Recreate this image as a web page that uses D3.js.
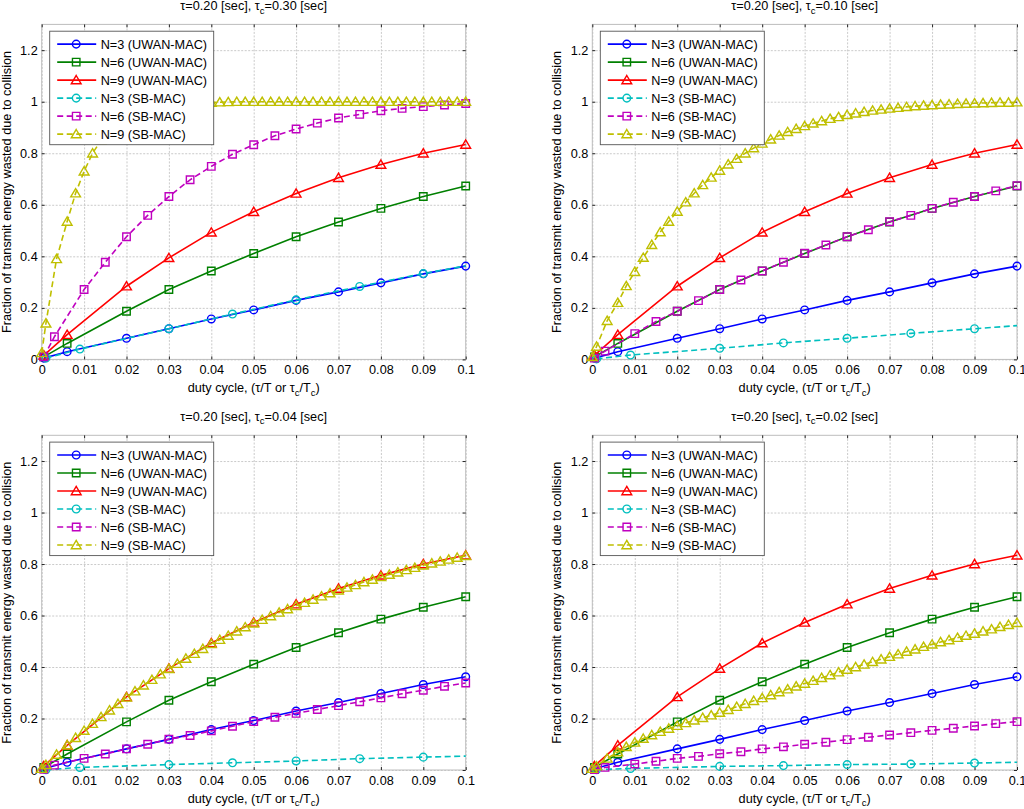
<!DOCTYPE html>
<html>
<head>
<meta charset="utf-8">
<script src="https://cdn.jsdelivr.net/npm/d3@7"></script>
<style>
  html, body { margin: 0; padding: 0; background: #fff; }
  svg { display: block; font-family: 'Liberation Sans', Arial, sans-serif; }
</style>
</head>
<body>
<script>
'use strict';

// ---- data ----
const xTicks = [0, 0.01, 0.02, 0.03, 0.04, 0.05, 0.06, 0.07, 0.08, 0.09, 0.1];
const xTickLabels = ['0', '0.01', '0.02', '0.03', '0.04', '0.05', '0.06', '0.07', '0.08', '0.09', '0.1'];
const yTicks = [0, 0.2, 0.4, 0.6, 0.8, 1, 1.2];
const yTickLabels = ['0', '0.2', '0.4', '0.6', '0.8', '1', '1.2'];

const tauCLabels = ['0.30', '0.10', '0.04', '0.02'];
const legendLabels = [
  'N=3 (UWAN-MAC)', 'N=6 (UWAN-MAC)', 'N=9 (UWAN-MAC)',
  'N=3 (SB-MAC)', 'N=6 (SB-MAC)', 'N=9 (SB-MAC)'
];

// duty cycle samples of each curve
const xUwan = [0.0005, 0.006, 0.02, 0.03, 0.04, 0.05, 0.06, 0.07, 0.08, 0.09, 0.1];
const xSb3 = [0.001, 0.009, 0.03, 0.045, 0.06, 0.075, 0.09, 0.1];
const xSb6 = [0.0005, 0.003, 0.01, 0.015, 0.02, 0.025, 0.03, 0.035, 0.04, 0.045, 0.05,
  0.055, 0.06, 0.065, 0.07, 0.075, 0.08, 0.085, 0.09, 0.095, 0.1];
const xSb9 = [0, 0.001, 0.0035, 0.006, 0.008, 0.010, 0.012, 0.014, 0.016, 0.018, 0.020,
  0.022, 0.024, 0.026, 0.028, 0.030, 0.032, 0.034, 0.036, 0.038, 0.040,
  0.042, 0.044, 0.046, 0.048, 0.050, 0.052, 0.054, 0.056, 0.058, 0.060,
  0.062, 0.064, 0.066, 0.068, 0.070, 0.072, 0.074, 0.076, 0.078, 0.080,
  0.082, 0.084, 0.086, 0.088, 0.090, 0.092, 0.094, 0.096, 0.098, 0.100];

// UWAN-MAC does not depend on tau_c
const uwan3 = [0.005, 0.03, 0.082, 0.119, 0.157, 0.192, 0.229, 0.262, 0.297, 0.332, 0.362];
const uwan6 = [0.01, 0.062, 0.187, 0.271, 0.343, 0.411, 0.476, 0.533, 0.586, 0.632, 0.673];
const uwan9 = [0.016, 0.096, 0.284, 0.394, 0.493, 0.573, 0.644, 0.705, 0.756, 0.800, 0.834];

// SB-MAC, tau_c = 0.30
const sb3Tc30 = [0.005, 0.04, 0.119, 0.176, 0.231, 0.283, 0.333, 0.363];
const sb6Tc30 = [0.01, 0.088, 0.271, 0.377, 0.476, 0.559, 0.632, 0.697, 0.749, 0.796, 0.833,
  0.868, 0.894, 0.917, 0.937, 0.951, 0.965, 0.974, 0.981, 0.987, 0.993];
const sb9Tc30 = [0.025, 0.14, 0.39, 0.535, 0.645, 0.73, 0.80, 0.85, 0.885, 0.91, 0.93,
  0.947, 0.96, 0.97, 0.977, 0.983, 0.987, 0.99, 0.993, 0.995, 0.997,
  0.998, 0.999, 1, 1, 1, 1, 1, 1, 1, 1,
  1, 1, 1, 1, 1, 1, 1, 1, 1, 1,
  1, 1, 1, 1, 1, 1, 1, 1, 1, 1];

// SB-MAC, tau_c = 0.10
const sb3Tc10 = [0.002, 0.017, 0.043, 0.064, 0.082, 0.101, 0.119, 0.131];
const sb6Tc10 = [0.005, 0.032, 0.10, 0.147, 0.187, 0.228, 0.271, 0.308, 0.343, 0.377, 0.412,
  0.444, 0.476, 0.503, 0.534, 0.559, 0.586, 0.61, 0.632, 0.654, 0.674];
const sb9Tc10 = [0.01, 0.05, 0.15, 0.22, 0.285, 0.34, 0.395, 0.445, 0.494, 0.535, 0.574,
  0.61, 0.645, 0.677, 0.706, 0.733, 0.757, 0.779, 0.80, 0.82, 0.838,
  0.854, 0.869, 0.883, 0.895, 0.906, 0.916, 0.925, 0.934, 0.941, 0.949,
  0.955, 0.961, 0.966, 0.970, 0.974, 0.977, 0.980, 0.983, 0.985, 0.987,
  0.989, 0.990, 0.992, 0.993, 0.994, 0.995, 0.996, 0.997, 0.997, 0.998];

// SB-MAC, tau_c = 0.04
const sb3Tc04 = [0.001, 0.010, 0.021, 0.028, 0.035, 0.044, 0.050, 0.054];
const sb6Tc04 = [0.003, 0.019, 0.045, 0.062, 0.082, 0.10, 0.12, 0.134, 0.152, 0.17, 0.188,
  0.205, 0.22, 0.235, 0.25, 0.265, 0.28, 0.296, 0.31, 0.325, 0.338];
const sb9Tc04 = [0.005, 0.02, 0.06, 0.097, 0.125, 0.153, 0.18, 0.206, 0.232, 0.257, 0.282,
  0.306, 0.329, 0.351, 0.372, 0.393, 0.413, 0.433, 0.452, 0.471, 0.49,
  0.506, 0.522, 0.539, 0.555, 0.570, 0.584, 0.598, 0.612, 0.625, 0.638,
  0.650, 0.662, 0.675, 0.687, 0.698, 0.709, 0.719, 0.730, 0.740, 0.750,
  0.759, 0.768, 0.777, 0.786, 0.795, 0.803, 0.810, 0.818, 0.825, 0.832];

// SB-MAC, tau_c = 0.02
const sb3Tc02 = [0.001, 0.006, 0.014, 0.017, 0.021, 0.023, 0.027, 0.030];
const sb6Tc02 = [0.002, 0.01, 0.023, 0.034, 0.045, 0.053, 0.063, 0.071, 0.082, 0.09, 0.10,
  0.108, 0.118, 0.127, 0.136, 0.145, 0.154, 0.162, 0.171, 0.18, 0.188];
const sb9Tc02 = [0.005, 0.015, 0.045, 0.07, 0.09, 0.107, 0.122, 0.136, 0.149, 0.161, 0.172,
  0.183, 0.193, 0.203, 0.213, 0.223, 0.234, 0.246, 0.257, 0.269, 0.28,
  0.291, 0.303, 0.314, 0.325, 0.336, 0.347, 0.358, 0.369, 0.38, 0.39,
  0.40, 0.41, 0.42, 0.43, 0.44, 0.45, 0.46, 0.469, 0.479, 0.488,
  0.497, 0.505, 0.514, 0.522, 0.53, 0.539, 0.547, 0.556, 0.564, 0.572];

// ---- layout / style ----
const W = 1024, H = 809;
const FONT = 12.7;
const boxes = [
  { left: 41.7, right: 465.7, top: 24.4, bottom: 359.4 },
  { left: 592.3, right: 1017, top: 24.4, bottom: 359.4 },
  { left: 41.7, right: 465.7, top: 435.3, bottom: 770 },
  { left: 592.3, right: 1017, top: 435.3, bottom: 770 }
];
const styles = [
  { color: '#0000ff', dash: null, marker: 'circle' },
  { color: '#008000', dash: null, marker: 'square' },
  { color: '#ff0000', dash: null, marker: 'triangle' },
  { color: '#00bfbf', dash: '6,3.5', marker: 'circle', skipLast: true },
  { color: '#bf00bf', dash: '6,3.5', marker: 'square' },
  { color: '#bfbf00', dash: '6,3.5', marker: 'triangle' }
];

const markerPath = type => {
  if (type === 'circle') return d3.symbol(d3.symbolCircle, 46)();
  if (type === 'square') return d3.symbol(d3.symbolSquare, 56)();
  return 'M0,-4.6L4.9,3.7L-4.9,3.7Z';
};

const panelSeries = [
  [uwan3, uwan6, uwan9, sb3Tc30, sb6Tc30, sb9Tc30],
  [uwan3, uwan6, uwan9, sb3Tc10, sb6Tc10, sb9Tc10],
  [uwan3, uwan6, uwan9, sb3Tc04, sb6Tc04, sb9Tc04],
  [uwan3, uwan6, uwan9, sb3Tc02, sb6Tc02, sb9Tc02]
];
const seriesX = [xUwan, xUwan, xUwan, xSb3, xSb6, xSb9];

const svg = d3.select('body').append('svg')
  .attr('width', W).attr('height', H)
  .attr('viewBox', `0 0 ${W} ${H}`);

svg.append('rect').attr('width', W).attr('height', H).attr('fill', '#fff');

const appendSubText = (node, parts) => {
  // parts: [text, isSub]
  parts.forEach(([t, sub], i) => {
    const prevSub = i > 0 && parts[i - 1][1];
    const ts = node.append('tspan').text(t);
    if (sub) ts.attr('dy', 3.5).attr('font-size', FONT * 0.75);
    else if (prevSub) ts.attr('dy', -3.5);
  });
};

const appendAxes = (g, x, y, box) => {
  const h = box.bottom - box.top;
  const w = box.right - box.left;

  // grid
  g.append('g')
    .attr('transform', `translate(0,${box.bottom})`)
    .call(d3.axisBottom(x).tickValues(xTicks).tickSize(-h).tickFormat(''))
    .call(a => a.select('.domain').remove())
    .selectAll('line')
      .attr('stroke', '#c4c4c4').attr('stroke-width', 0.9).attr('stroke-dasharray', '2,1.5');
  g.append('g')
    .attr('transform', `translate(${box.left},0)`)
    .call(d3.axisLeft(y).tickValues(yTicks).tickSize(-w).tickFormat(''))
    .call(a => a.select('.domain').remove())
    .selectAll('line')
      .attr('stroke', '#c4c4c4').attr('stroke-width', 0.9).attr('stroke-dasharray', '2,1.5');

  // frame
  g.append('rect')
    .attr('x', box.left).attr('y', box.top)
    .attr('width', w).attr('height', h)
    .attr('fill', 'none').attr('stroke', '#bdbdbd').attr('stroke-width', 1);

  const styleAxis = a => {
    a.select('.domain').remove();
    a.selectAll('line').attr('stroke', '#262626').attr('stroke-width', 1);
    a.selectAll('text').attr('fill', '#000').attr('font-size', FONT)
      .attr('font-family', "'Liberation Sans', Arial, sans-serif");
  };

  g.append('g')
    .attr('transform', `translate(0,${box.bottom})`)
    .call(d3.axisBottom(x).tickValues(xTicks).tickSizeInner(-3).tickSizeOuter(0)
      .tickPadding(6).tickFormat((d, i) => xTickLabels[i]))
    .call(styleAxis);
  g.append('g')
    .attr('transform', `translate(0,${box.top})`)
    .call(d3.axisTop(x).tickValues(xTicks).tickSizeInner(-3).tickSizeOuter(0).tickFormat(''))
    .call(styleAxis);
  g.append('g')
    .attr('transform', `translate(${box.left},0)`)
    .call(d3.axisLeft(y).tickValues(yTicks).tickSizeInner(-3).tickSizeOuter(0)
      .tickPadding(4).tickFormat((d, i) => yTickLabels[i]))
    .call(styleAxis);
  g.append('g')
    .attr('transform', `translate(${box.right},0)`)
    .call(d3.axisRight(y).tickValues(yTicks).tickSizeInner(-3).tickSizeOuter(0).tickFormat(''))
    .call(styleAxis);
};

const appendSeries = (g, x, y, xs, ys, st) => {
  const pts = d3.zip(xs, ys);
  const line = d3.line().x(d => x(d[0])).y(d => y(d[1]));
  g.append('path')
    .attr('d', line(pts))
    .attr('fill', 'none')
    .attr('stroke', st.color)
    .attr('stroke-width', 1.6)
    .attr('stroke-dasharray', st.dash);
  const marks = st.skipLast ? pts.slice(0, -1) : pts;
  g.append('g').selectAll('path')
    .data(marks)
    .join('path')
      .attr('transform', d => `translate(${x(d[0])},${y(d[1])})`)
      .attr('d', markerPath(st.marker))
      .attr('fill', 'none')
      .attr('stroke', st.color)
      .attr('stroke-width', 1.4);
};

const appendLegend = (g, box) => {
  const lg = g.append('g').attr('transform', `translate(${box.left + 8},${box.top + 6.8})`);
  lg.append('rect')
    .attr('x', 0).attr('y', 0)
    .attr('width', 164).attr('height', 113.5)
    .attr('fill', '#fff').attr('stroke', '#555').attr('stroke-width', 0.9);
  legendLabels.forEach((label, i) => {
    const st = styles[i];
    const row = lg.append('g').attr('transform', `translate(0,${12.9 + i * 18})`);
    row.append('line')
      .attr('x1', 7.5).attr('x2', 46.5)
      .attr('stroke', st.color).attr('stroke-width', 1.6)
      .attr('stroke-dasharray', st.dash);
    row.append('path')
      .attr('transform', 'translate(26.5,0)')
      .attr('d', markerPath(st.marker))
      .attr('fill', 'none').attr('stroke', st.color).attr('stroke-width', 1.4);
    row.append('text')
      .attr('x', 51).attr('dy', '0.36em')
      .attr('font-size', FONT).attr('fill', '#000')
      .text(label);
  });
};

boxes.forEach((box, p) => {
  const g = svg.append('g');
  const x = d3.scaleLinear().domain([0, 0.1]).range([box.left, box.right]);
  const y = d3.scaleLinear().domain([0, 1.3]).range([box.bottom, box.top]);

  appendAxes(g, x, y, box);

  const plot = g.append('g');
  panelSeries[p].forEach((ys, i) => appendSeries(plot, x, y, seriesX[i], ys, styles[i]));

  appendLegend(g, box);

  // title
  const cx = (box.left + box.right) / 2;
  const title = g.append('text')
    .attr('x', cx).attr('y', box.top - 14.4)
    .attr('text-anchor', 'middle').attr('font-size', FONT).attr('fill', '#000');
  appendSubText(title, [['τ=0.20 [sec], τ', false], ['c', true], [`=${tauCLabels[p]} [sec]`, false]]);

  // x label
  const xl = g.append('text')
    .attr('x', cx).attr('y', box.bottom + 32.8)
    .attr('text-anchor', 'middle').attr('font-size', FONT).attr('fill', '#000');
  appendSubText(xl, [['duty cycle, (τ/T or τ', false], ['c', true], ['/T', false], ['c', true], [')', false]]);

  // y label
  const cy = (box.top + box.bottom) / 2;
  g.append('text')
    .attr('transform', `translate(${box.left - 31},${cy}) rotate(-90)`)
    .attr('text-anchor', 'middle').attr('font-size', FONT).attr('fill', '#000')
    .text('Fraction of transmit energy wasted due to collision');
});
</script>
</body>
</html>
